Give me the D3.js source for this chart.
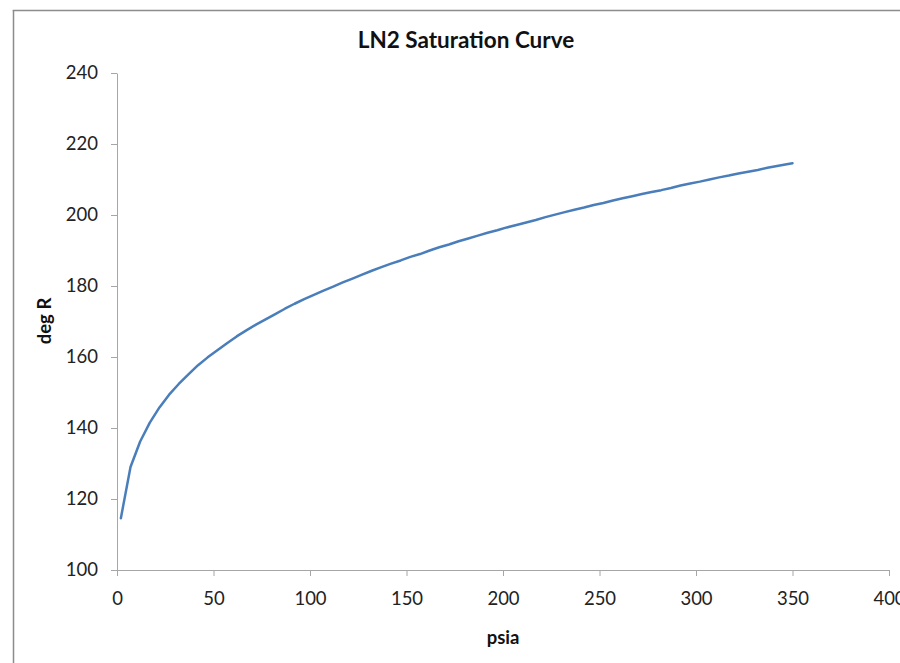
<!DOCTYPE html>
<html><head><meta charset="utf-8">
<script src="https://cdn.jsdelivr.net/npm/d3@7"></script>
<style>body{margin:0;background:#fff;overflow:hidden;}svg{display:block;}</style>
</head><body>
<svg id="c" width="900" height="663"></svg>
<script>
const psia = [2,7,12,17,22,27,32,37,42,47,52,57,62,67,72,77,82,87,92,97,102,107,112,117,122,127,132,137,142,147,152,157,162,167,172,177,182,187,192,197,202,207,212,217,222,227,232,237,242,247,252,257,262,267,272,277,282,287,292,297,302,307,312,317,322,327,332,337,342,347,350];
const degR = [114.6,129.0,136.2,141.5,145.8,149.4,152.4,155.1,157.7,159.9,161.9,163.9,165.8,167.5,169.1,170.6,172.1,173.6,175.0,176.3,177.5,178.7,179.8,181.0,182.1,183.2,184.3,185.3,186.3,187.2,188.2,189.0,190.0,190.9,191.7,192.6,193.4,194.2,195.0,195.7,196.5,197.2,197.9,198.6,199.4,200.1,200.8,201.5,202.1,202.8,203.4,204.1,204.7,205.3,205.9,206.5,207.0,207.6,208.3,208.9,209.4,210.0,210.6,211.1,211.7,212.2,212.7,213.3,213.8,214.3,214.6];
const xTicks = [0,50,100,150,200,250,300,350,400];
const yTicks = [100,120,140,160,180,200,220,240];
const title = "LN2 Saturation Curve";
const xTitle = "psia";
const yTitle = "deg R";

const svg = d3.select("#c");
const font = "Lato, 'Open Sans', sans-serif";
// outer chart border: top and left edges
svg.append("line").attr("x1",12.75).attr("y1",10.5).attr("x2",905).attr("y2",10.5)
  .attr("stroke","#8c8c8c").attr("stroke-width",1.5);
svg.append("line").attr("x1",13.5).attr("y1",10).attr("x2",13.5).attr("y2",670)
  .attr("stroke","#8c8c8c").attr("stroke-width",1.5);

const L=117, R=889, T=73, B=570;
const x = d3.scaleLinear().domain([0,400]).range([L,R]);
const y = d3.scaleLinear().domain([100,240]).range([B,T]);

const xa = svg.append("g").attr("transform",`translate(0,${B})`)
  .call(d3.axisBottom(x).tickValues(xTicks).tickSize(6).tickPadding(16).tickSizeOuter(0));
const ya = svg.append("g").attr("transform",`translate(${L},0)`)
  .call(d3.axisLeft(y).tickValues(yTicks).tickSize(6).tickPadding(13).tickSizeOuter(0));
[xa,ya].forEach(a=>{
  a.selectAll("path,line").attr("stroke","#a6a6a6").attr("stroke-width",1);
  a.selectAll("text").attr("fill","#222").style("font-family",font).style("font-size","18.5px");
});

svg.append("path").datum(psia.map((p,i)=>[p,degR[i]]))
  .attr("fill","none").attr("stroke","#4a7ebb").attr("stroke-width",2.5)
  .attr("stroke-linejoin","round").attr("stroke-linecap","round")
  .attr("d", d3.line().x(d=>x(d[0])).y(d=>y(d[1])));

svg.append("text").attr("x",466).attr("y",48).attr("text-anchor","middle")
  .style("font-family",font).style("font-weight","bold").style("font-size","22.5px").attr("fill","#111").text(title);
svg.append("text").attr("x",503).attr("y",644).attr("text-anchor","middle")
  .style("font-family",font).style("font-weight","bold").style("font-size","18.5px").attr("fill","#111").text(xTitle);
svg.append("text").attr("transform","translate(51,321) rotate(-90)").attr("text-anchor","middle")
  .style("font-family",font).style("font-weight","bold").style("font-size","18.5px").attr("fill","#111").text(yTitle);
</script>
</body></html>
